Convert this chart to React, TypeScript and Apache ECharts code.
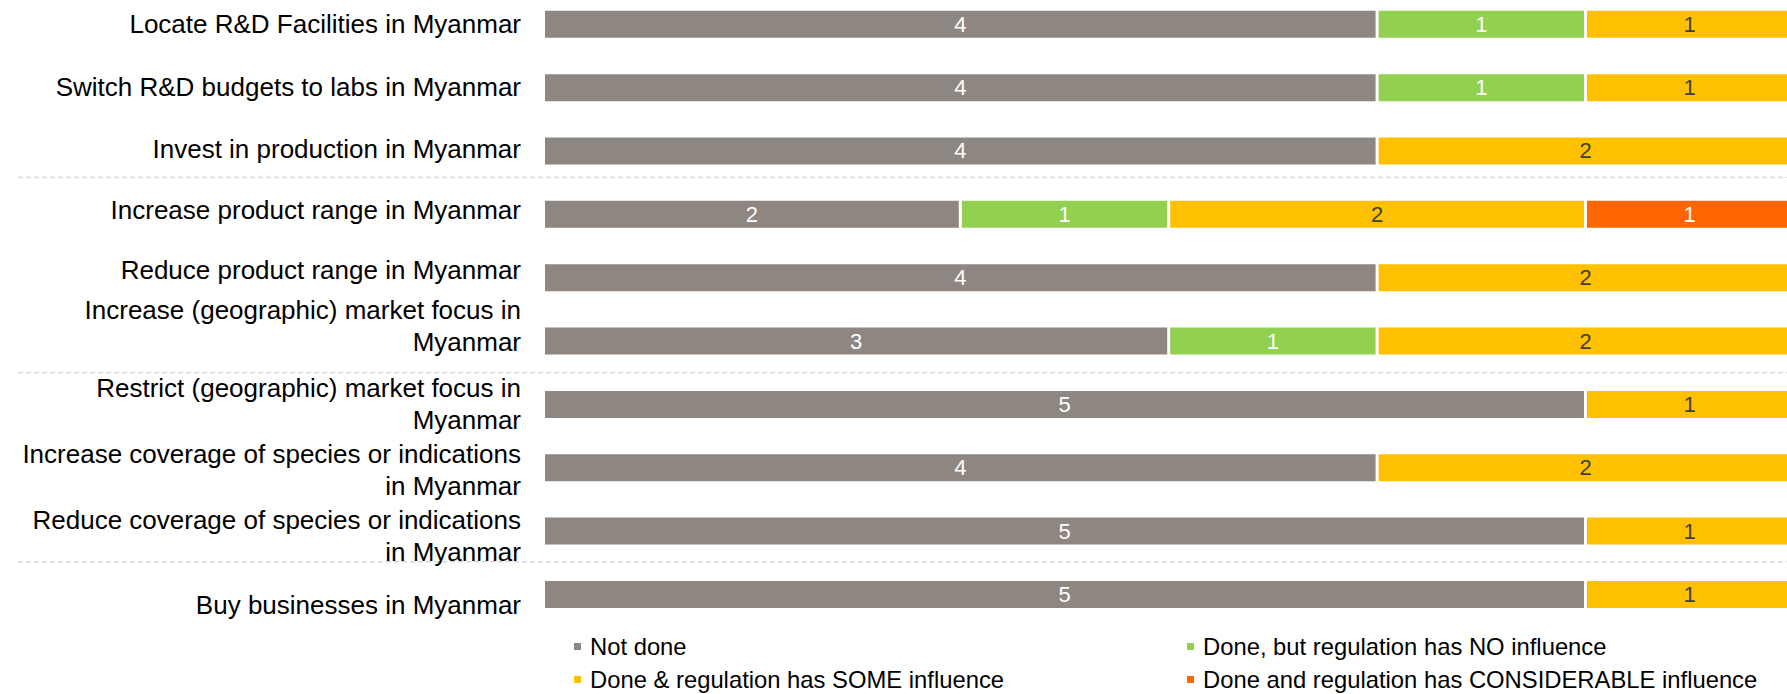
import React, { useEffect, useRef } from 'react';
import * as echarts from 'echarts';

// ---------- data ----------
const categories = [
  'Locate R&D Facilities in Myanmar',
  'Switch R&D budgets to labs in Myanmar',
  'Invest in production in Myanmar',
  'Increase product range in Myanmar',
  'Reduce product range in Myanmar',
  'Increase (geographic) market focus in\nMyanmar',
  'Restrict (geographic) market focus in\nMyanmar',
  'Increase coverage of species or indications\nin Myanmar',
  'Reduce coverage of species or indications\nin Myanmar',
  'Buy businesses in Myanmar',
];
const notDone = [4, 4, 4, 2, 4, 3, 5, 4, 5, 5];
const doneNoInfluence = [1, 1, 0, 1, 0, 1, 0, 0, 0, 0];
const doneSomeInfluence = [1, 1, 2, 2, 2, 2, 1, 2, 1, 1];
const doneConsiderableInfluence = [0, 0, 0, 1, 0, 0, 0, 0, 0, 0];
const seriesNames = [
  'Not done',
  'Done, but regulation has NO influence',
  'Done & regulation has SOME influence',
  'Done and regulation has CONSIDERABLE influence',
];
// dashed separators are drawn after these category indices
const groupEnds = [2, 5, 8];

// ---------- styling / layout ----------
const FONT = '"Liberation Sans", Arial, Helvetica, sans-serif';
const colors = ['#8E8680', '#92D050', '#FFC000', '#FF6600'];
const labelColors = ['#FFFFFF', '#FFFFFF', '#404040', '#FFFFFF'];
// small vertical nudges of category labels (px, + = down)
const labelNudge = [0, -1, -2, -4.5, -7.5, -15, 0, 2, 5, 11];
const separatorNudge = [-5.5, 0, -1];
const OFFSET_Y = 20; // chart canvas extends above / right / below the visible page
const OFFSET_X = 20;
const EXTRA_BOTTOM = 30;
const VIEW_W = 1787;
const VIEW_H = 694;

export default function App() {
  const ref = useRef<HTMLDivElement>(null);

  useEffect(() => {
    if (!ref.current) return;
    const chart = echarts.init(ref.current, undefined, { renderer: 'svg' });

    const seriesData = [notDone, doneNoInfluence, doneSomeInfluence, doneConsiderableInfluence];

    const legendCommon = {
      orient: 'vertical',
      top: OFFSET_Y + 634.5,
      padding: 0,
      itemGap: 9,
      itemWidth: 9,
      itemHeight: 9,
      icon: 'rect',
      selectedMode: false,
      textStyle: { fontSize: 23.8, lineHeight: 24, color: '#000', fontFamily: FONT, padding: [0, 0, 0, 3] },
    };

    chart.setOption({
      animation: false,
      grid: { left: 543.5, top: OFFSET_Y - 7.4, width: 1250.4, height: 633.5, containLabel: false },
      xAxis: {
        type: 'value',
        min: 0,
        max: 6,
        show: false,
      },
      yAxis: {
        type: 'category',
        inverse: true,
        data: categories,
        axisLine: { show: false },
        axisTick: { show: false },
        splitLine: { show: false },
        axisLabel: { show: false },
      },
      legend: [
        { ...legendCommon, data: [seriesNames[0], seriesNames[2]], left: 572 },
        { ...legendCommon, data: [seriesNames[1], seriesNames[3]], left: 1185 },
      ],
      series: seriesData.map((vals, k) => ({
        name: seriesNames[k],
        type: 'bar',
        stack: 'total',
        barWidth: 30,
        data: vals.map((v) => (v === 0 ? null : v)),
        itemStyle: { color: colors[k], borderColor: '#FFFFFF', borderWidth: 1.5 },
        label: {
          show: true,
          position: 'inside',
          color: labelColors[k],
          fontSize: 22,
          fontFamily: FONT,
          formatter: (p: any) => (p.value ? String(p.value) : ''),
        },
      })),
    });

    const catY = (i: number) => chart.convertToPixel({ yAxisIndex: 0 }, i) as number;

    // dashed group separators between category groups
    const separators = groupEnds.map((idx, j) => {
      const y = (catY(idx) + catY(idx + 1)) / 2 + separatorNudge[j];
      return {
        type: 'line',
        silent: true,
        shape: { x1: 18, y1: y, x2: VIEW_W + OFFSET_X, y2: y },
        style: { stroke: '#D9D9D9', lineWidth: 1.5, lineDash: [5, 3] },
        z: 0,
      };
    });

    // category labels, right-aligned next to the bars
    const labels = categories.map((c, i) => ({
      type: 'text',
      silent: true,
      x: 521,
      y: catY(i) + labelNudge[i],
      z: 10,
      style: {
        text: c,
        fill: '#000000',
        fontSize: 26,
        fontFamily: FONT,
        lineHeight: 32,
        align: 'right',
        verticalAlign: 'middle',
      },
    }));

    chart.setOption({ graphic: [...separators, ...labels] });

    return () => chart.dispose();
  }, []);

  return (
    <div
      style={{
        position: 'absolute',
        left: 0,
        top: 0,
        width: VIEW_W,
        height: VIEW_H,
        overflow: 'hidden',
        background: '#fff',
      }}
    >
      <div
        ref={ref}
        style={{
          position: 'absolute',
          left: 0,
          top: -OFFSET_Y,
          width: VIEW_W + OFFSET_X,
          height: VIEW_H + OFFSET_Y + EXTRA_BOTTOM,
        }}
      />
    </div>
  );
}
